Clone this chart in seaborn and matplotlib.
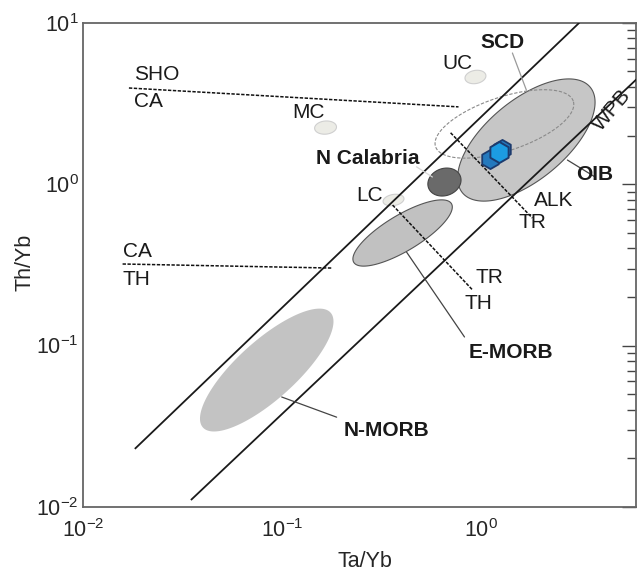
import numpy as np
import pandas as pd
import matplotlib
matplotlib.use("Agg")
import matplotlib.pyplot as plt
import seaborn as sns

# ---------------- data ----------------
# sample points (N Calabria samples)
sample_ta_yb = [1.11, 1.27, 1.23]
sample_th_yb = [1.43, 1.65, 1.58]
sample_group = ["back", "back", "front"]

# MORB-OIB array boundaries
array_upper_ta = [0.0182, 3.10]
array_upper_th = [0.0229, 10.0]
array_lower_ta = [0.0348, 6.0]
array_lower_th = [0.01104, 4.46]

# dotted divides
sho_ca_ta = [0.0170, 0.767]
sho_ca_th = [3.94, 3.01]
ca_th_ta = [0.0158, 0.179]
ca_th_th = [0.320, 0.302]
alk_tr_ta = [0.700, 1.80]
alk_tr_th = [2.08, 0.617]
tr_th_ta = [0.358, 0.902]
tr_th_th = [0.742, 0.221]

# compositional fields: centre (Ta/Yb, Th/Yb), semi-axes (decades), tilt (deg)
field_names = ["N-MORB", "E-MORB", "OIB", "N Calabria", "LC", "MC", "UC", "SCD"]
field_cx = [0.0836, 0.402, 1.68, 0.652, 0.362, 0.165, 0.933, 1.304]
field_cy = [0.0705, 0.498, 1.876, 1.03, 0.797, 2.24, 4.61, 2.36]
field_a = [0.431, 0.286, 0.416, 0.085, 0.053, 0.055, 0.053, 0.364]
field_b = [0.147, 0.090, 0.200, 0.068, 0.028, 0.033, 0.033, 0.135]
field_angle = [42, 31, 39.6, 20, 10, 5, 10, 18.3]

# leader lines
leader_names = ["E-MORB", "N-MORB", "OIB", "SCD", "N Calabria"]
leader_ta = [[0.421, 0.822], [0.0994, 0.1875], [2.70, 3.72], [1.43, 1.68], [0.472, 0.567]]
leader_th = [[0.379, 0.113], [0.048, 0.036], [1.41, 1.107], [6.49, 3.83], [1.28, 1.107]]

# ---------------- style ----------------
sns.set_theme(style="white")
plt.rcParams["font.family"] = ["Liberation Sans", "DejaVu Sans"]
plt.rcParams["mathtext.fontset"] = "custom"
plt.rcParams["mathtext.rm"] = "Liberation Sans"
plt.rcParams["mathtext.it"] = "Liberation Sans:italic"
plt.rcParams["mathtext.bf"] = "Liberation Sans:bold"

W, H = 6.4, 5.79
fig = plt.figure(figsize=(W, H), dpi=100)
ax = fig.add_axes([0.1297, 0.1244, 0.9945 - 0.1297, 0.9608 - 0.1244])
ax.set_xscale("log")
ax.set_yscale("log")
xlim = (0.01, 6.0)
ylim = (0.01, 10.0)
ax.set_xlim(*xlim)
ax.set_ylim(*ylim)

# pixel-per-decade ratio (x vs y) for drawing ellipses in log space
bb = ax.get_position()
px_x = bb.width * W / (np.log10(xlim[1]) - np.log10(xlim[0]))
px_y = bb.height * H / (np.log10(ylim[1]) - np.log10(ylim[0]))
ratio = px_x / px_y


def ellipse_xy(cx, cy, a, b, ang):
    t = np.linspace(0, 2 * np.pi, 200)
    th = np.deg2rad(ang)
    dx = a * np.cos(t) * np.cos(th) - b * np.sin(t) * np.sin(th)
    dy = (a * np.cos(t) * np.sin(th) + b * np.sin(t) * np.cos(th)) * ratio
    return 10 ** (np.log10(cx) + dx), 10 ** (np.log10(cy) + dy)


field_style = {
    "N-MORB": dict(fc="#c3c3c3", ec="none", lw=0, ls="-"),
    "E-MORB": dict(fc="#c1c1c1", ec="#555555", lw=0.8, ls="-"),
    "OIB": dict(fc="#c6c6c6", ec="#555555", lw=0.8, ls="-"),
    "N Calabria": dict(fc="#6a6a6a", ec="#444444", lw=0.8, ls="-"),
    "LC": dict(fc="#ececE6", ec="#cfcfcf", lw=0.8, ls="-"),
    "MC": dict(fc="#ececE6", ec="#cfcfcf", lw=0.8, ls="-"),
    "UC": dict(fc="#ececE6", ec="#cfcfcf", lw=0.8, ls="-"),
    "SCD": dict(fc="none", ec="#8a8a8a", lw=0.8, ls=(0, (3, 1.5))),
}

for name, cx, cy, a, b, ang in zip(field_names, field_cx, field_cy, field_a, field_b, field_angle):
    xs, ys = ellipse_xy(cx, cy, a, b, ang)
    st = field_style[name]
    ax.fill(xs, ys, facecolor=st["fc"], edgecolor=st["ec"], linewidth=st["lw"],
            linestyle=st["ls"], zorder=2)

# array boundaries
ax.plot(array_upper_ta, array_upper_th, color="#1a1a1a", lw=1.3, zorder=3, solid_capstyle="butt")
ax.plot(array_lower_ta, array_lower_th, color="#1a1a1a", lw=1.3, zorder=3, solid_capstyle="butt")

# dotted divides
dot = (0, (2.2, 1.0))
for xs, ys in [(sho_ca_ta, sho_ca_th), (ca_th_ta, ca_th_th), (alk_tr_ta, alk_tr_th), (tr_th_ta, tr_th_th)]:
    ax.plot(xs, ys, color="#111111", lw=1.1, ls=dot, zorder=3)

# leaders
leader_col = {"E-MORB": "#444444", "N-MORB": "#444444", "OIB": "#444444",
              "SCD": "#9a9a9a", "N Calabria": "#d8d8d8"}
for name, xs, ys in zip(leader_names, leader_ta, leader_th):
    ax.plot(xs, ys, color=leader_col[name], lw=0.9, zorder=3)

# samples
df = pd.DataFrame({"ta": sample_ta_yb, "th": sample_th_yb, "g": sample_group})
sns.scatterplot(data=df[df.g == "back"], x="ta", y="th", marker="h", s=190,
                color="#2479be", edgecolor="#1c3b6e", linewidth=1.3, ax=ax, zorder=5,
                legend=False)
sns.scatterplot(data=df[df.g == "front"], x="ta", y="th", marker="h", s=230,
                color="#1c9ce2", edgecolor="#1c3b6e", linewidth=1.4, ax=ax, zorder=6,
                legend=False)

# text annotations
fs = 15
txt = [
    ("SHO", 0.01803, 4.81, "left", "normal", 0),
    ("CA", 0.01803, 3.23, "left", "normal", 0),
    ("CA", 0.01585, 0.385, "left", "normal", 0),
    ("TH", 0.01585, 0.258, "left", "normal", 0),
    ("MC", 0.136, 2.76, "center", "normal", 0),
    ("UC", 0.759, 5.62, "center", "normal", 0),
    ("SCD", 1.273, 7.59, "center", "bold", 0),
    ("N Calabria", 0.489, 1.45, "right", "bold", 0),
    ("LC", 0.275, 0.853, "center", "normal", 0),
    ("ALK", 2.30, 0.787, "center", "normal", 0),
    ("TR", 1.80, 0.582, "center", "normal", 0),
    ("OIB", 3.72, 1.15, "center", "bold", 0),
    ("WPB", 4.54, 2.88, "center", "normal", 50),
    ("TR", 1.097, 0.2657, "center", "normal", 0),
    ("TH", 0.966, 0.1834, "center", "normal", 0),
    ("E-MORB", 1.398, 0.0912, "center", "bold", 0),
    ("N-MORB", 0.334, 0.02996, "center", "bold", 0),
]
for s, x, y, ha, fw, rot in txt:
    ax.text(x, y, s, ha=ha, va="center", fontsize=fs, fontweight=fw, rotation=rot,
            color="#1a1a1a", zorder=7)

# axes styling
for side in ["left", "right", "top", "bottom"]:
    ax.spines[side].set_color("#666666")
    ax.spines[side].set_linewidth(1.3)
ax.tick_params(which="both", direction="in", top=False, right=True, labelright=False,
               color="#444444", width=1.0)
ax.tick_params(which="major", length=10, labelsize=15.5)
ax.tick_params(which="minor", length=6.5)
ax.tick_params(axis="x", which="major", pad=9)
ax.tick_params(axis="y", which="major", pad=3)
ax.xaxis.set_major_locator(matplotlib.ticker.LogLocator(base=10, numticks=10))
ax.xaxis.set_minor_locator(matplotlib.ticker.LogLocator(base=10, subs=np.arange(2, 10), numticks=20))
ax.yaxis.set_minor_locator(matplotlib.ticker.LogLocator(base=10, subs=np.arange(2, 10), numticks=20))
ax.xaxis.set_minor_formatter(matplotlib.ticker.NullFormatter())
ax.yaxis.set_minor_formatter(matplotlib.ticker.NullFormatter())
ax.grid(False)

ax.set_xlabel("Ta/Yb", fontsize=15.5)
ax.set_ylabel("Th/Yb", fontsize=15.5)
ax.xaxis.set_label_coords((365 - 83) / (636.5 - 83), -(551 - 507) / (507 - 22.7))
ax.yaxis.set_label_coords(-(83 - 35) / (636.5 - 83), (507 - 262) / (507 - 22.7))

fig.savefig("out.png", dpi=100, facecolor="white")
